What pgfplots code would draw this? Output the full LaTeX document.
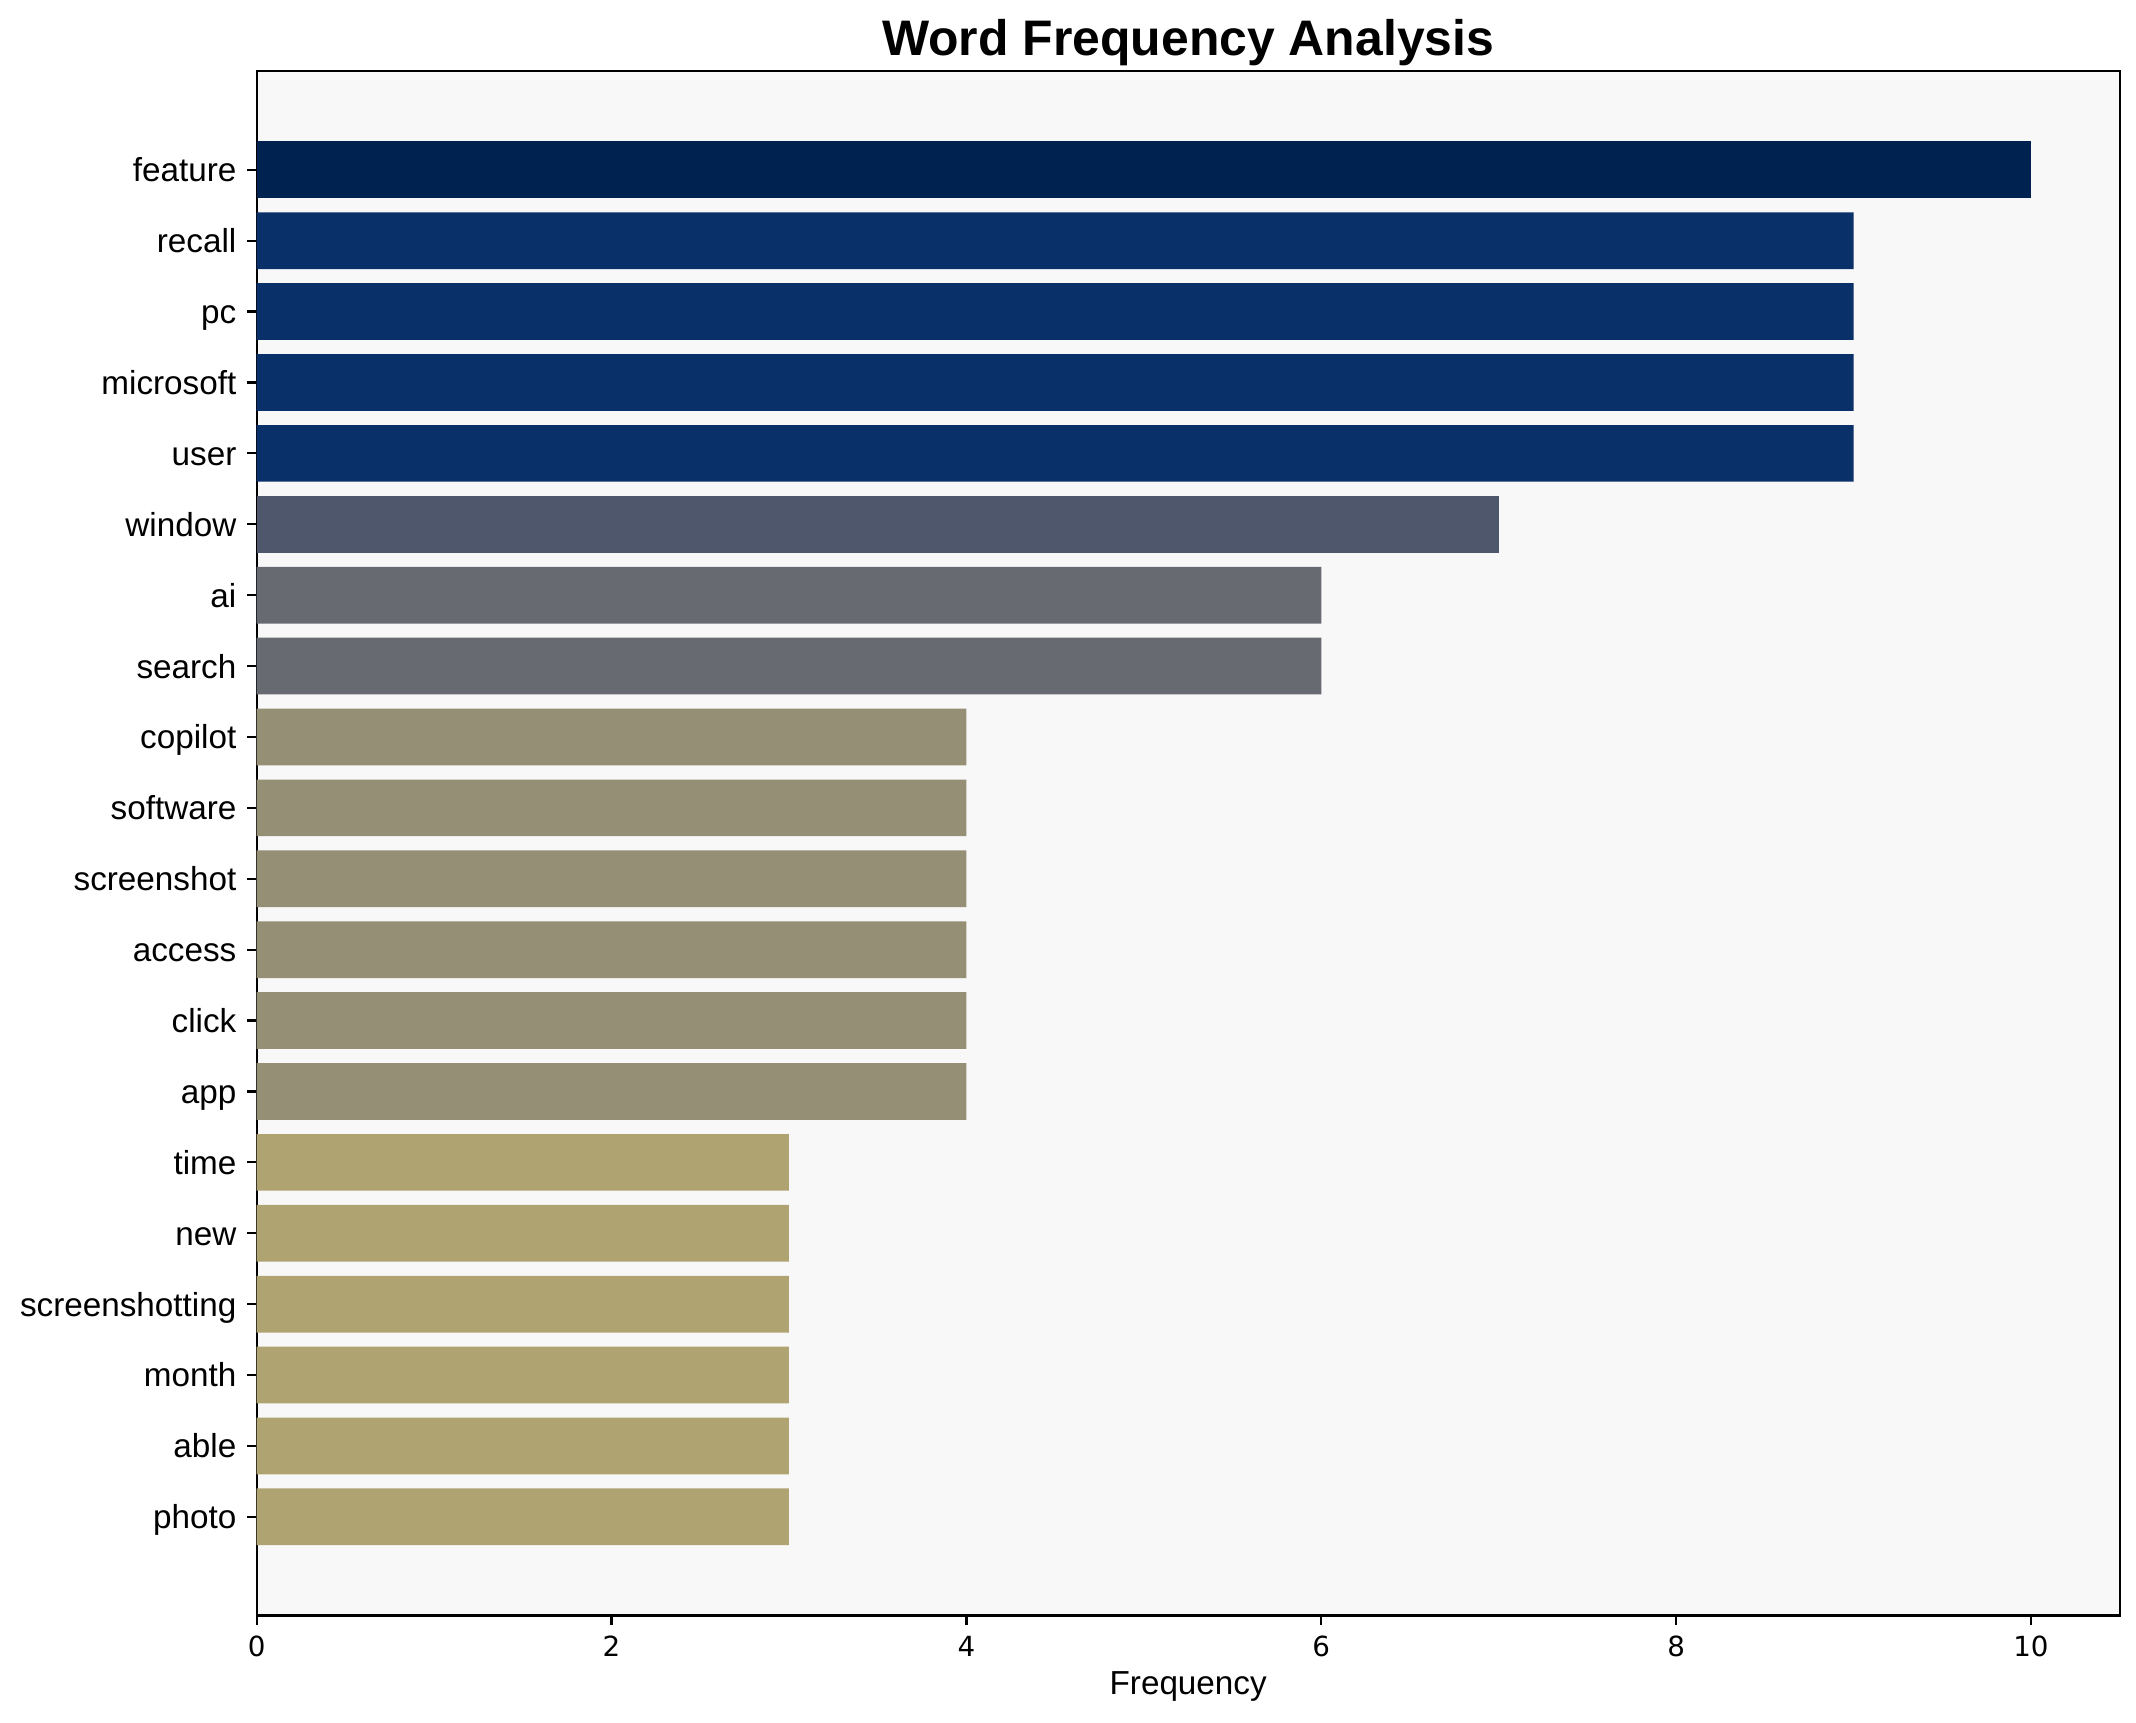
\documentclass[border=0pt]{standalone}
\usepackage{fontspec}
\setmainfont{Liberation Sans}
\newfontfamily\dejavu{DejaVu Sans}
\usepackage{pgfplots}
\pgfplotsset{compat=1.18}

\definecolor{c10}{HTML}{002251}
\definecolor{c9}{HTML}{0A3069}
\definecolor{c7}{HTML}{4E576B}
\definecolor{c6}{HTML}{686A72}
\definecolor{c4}{HTML}{958F76}
\definecolor{c3}{HTML}{AFA372}
\definecolor{bgc}{HTML}{F8F8F8}

\begin{document}
\begin{tikzpicture}
\begin{axis}[
  name=ax,
  scale only axis, width=672pt, height=557pt,
  xbar, bar width=0.8, bar shift=0,
  xmin=0, xmax=10.5, ymin=-1.39, ymax=20.39, y dir=reverse,
  xtick={0,2,...,10},
  ytick={0,...,19},
  yticklabels={feature,recall,pc,microsoft,user,window,ai,search,copilot,software,screenshot,access,click,app,time,new,screenshotting,month,able,photo},
  xtick pos=bottom, ytick pos=left, tick align=outside,
  major tick length=3.5pt,
  every tick/.style={black, line width=0.8pt},
  axis line style={line width=0.8pt},
  axis background/.style={fill=bgc},
  /pgf/number format/assume math mode=true,
  xticklabel style={font=\dejavu\fontsize{10}{12}\selectfont, yshift=-0.5pt},
  yticklabel style={font=\fontsize{12}{14}\selectfont, anchor=base east, yshift=-4.3pt, xshift=-0.3pt},
  xlabel={Frequency},
  xlabel style={font=\fontsize{12}{14}\selectfont, yshift=1.8pt},
  title={Word Frequency Analysis},
  title style={at={(0.5,1)}, anchor=base, yshift=-0.3pt, font=\bfseries\fontsize{18}{22}\selectfont},
]
\addplot[fill=c10, draw=none] coordinates {(10,0)};
\addplot[fill=c9, draw=none] coordinates {(9,1) (9,2) (9,3) (9,4)};
\addplot[fill=c7, draw=none] coordinates {(7,5)};
\addplot[fill=c6, draw=none] coordinates {(6,6) (6,7)};
\addplot[fill=c4, draw=none] coordinates {(4,8) (4,9) (4,10) (4,11) (4,12) (4,13)};
\addplot[fill=c3, draw=none] coordinates {(3,14) (3,15) (3,16) (3,17) (3,18) (3,19)};
\end{axis}
\pgfresetboundingbox
\path ([xshift=-92.6pt,yshift=-38.5pt]ax.south west) rectangle ([xshift=5.9pt,yshift=25.7pt]ax.north east);
\end{tikzpicture}
\end{document}
